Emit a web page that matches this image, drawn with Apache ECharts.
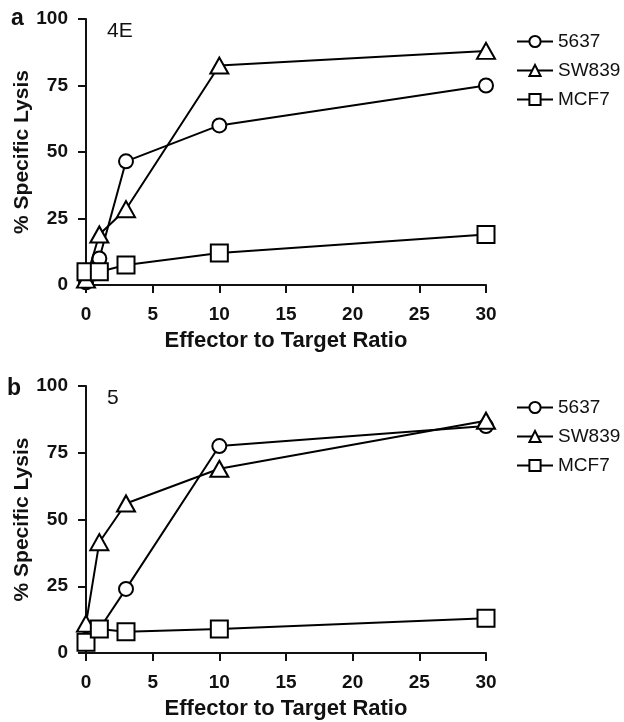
<!DOCTYPE html>
<html>
<head>
<meta charset="utf-8">
<script src="https://cdn.jsdelivr.net/npm/echarts@6/dist/echarts.min.js"></script>
<style>
  html, body { margin: 0; padding: 0; background: #fff; }
  #chart { width: 624px; height: 722px; }
</style>
</head>
<body>
<div id="chart"></div>
<script>
// effector : target ratios
var ratios = [0, 1, 3, 10, 30];
var cellLines = ['5637', 'SW839', 'MCF7'];
var xTicks = [0, 5, 10, 15, 20, 25, 30];
var yTicks = [0, 25, 50, 75, 100];

// panel a (4E)
var a5637 = [1, 10, 46.5, 60, 75];
var aSW839 = [2, 19, 28.5, 82.5, 88];
var aMCF7 = [5, 5, 7.5, 12, 19];

// panel b (5)
var b5637 = [5, 9, 24, 77.5, 85];
var bSW839 = [11, 41.5, 56, 69, 87];
var bMCF7 = [4, 9, 8, 9, 13];

var font = 'Liberation Sans, Arial, sans-serif';
var symbols = { '5637': 'circle', 'SW839': 'triangle', 'MCF7': 'rect' };
var sizes = { '5637': 14, 'SW839': [18, 16], 'MCF7': 17 };

function pairs(vals) {
  return ratios.map(function (r, i) { return [r, vals[i]]; });
}

function makeSeries(name, vals, idx) {
  return {
    name: name,
    type: 'line',
    xAxisIndex: idx,
    yAxisIndex: idx,
    data: pairs(vals),
    symbol: symbols[name],
    symbolSize: sizes[name],
    showAllSymbol: true,
    lineStyle: { color: '#000', width: 2 },
    itemStyle: { color: '#fff', borderColor: '#000', borderWidth: 2 },
    emphasis: { disabled: true },
    animation: false,
    z: 2 + cellLines.indexOf(name)
  };
}

function makeX(idx) {
  return {
    type: 'value',
    gridIndex: idx,
    min: 0,
    max: 30,
    interval: 5,
    name: 'Effector to Target Ratio',
    nameLocation: 'middle',
    nameGap: 45,
    nameMoveOverlap: false,
    nameTextStyle: { fontFamily: font, fontWeight: 'bold', fontSize: 22, color: '#111' },
    axisLine: { lineStyle: { color: '#111', width: 2 } },
    axisTick: { length: 8, lineStyle: { color: '#111', width: 2 } },
    axisLabel: { fontFamily: font, fontWeight: 'bold', fontSize: 19, color: '#111', margin: 20,
      formatter: function (v) { return xTicks.indexOf(v) >= 0 ? v : ''; } },
    splitLine: { show: false }
  };
}

function makeY(idx) {
  return {
    type: 'value',
    gridIndex: idx,
    min: 0,
    max: 100,
    interval: 25,
    name: '% Specific Lysis',
    nameLocation: 'middle',
    nameGap: 53,
    nameMoveOverlap: false,
    nameTextStyle: { fontFamily: font, fontWeight: 'bold', fontSize: 21, color: '#111' },
    axisLine: { show: true, lineStyle: { color: '#111', width: 2 } },
    axisTick: { show: true, length: 8, lineStyle: { color: '#111', width: 2 } },
    axisLabel: { fontFamily: font, fontWeight: 'bold', fontSize: 19, color: '#111', margin: 18,
      formatter: function (v) { return yTicks.indexOf(v) >= 0 ? v : ''; } },
    splitLine: { show: false }
  };
}

function makeLegend(top) {
  return {
    data: cellLines,
    orient: 'vertical',
    left: 516,
    top: top,
    padding: 0,
    itemWidth: 36,
    itemHeight: 14,
    itemGap: 10,
    selectedMode: false,
    textStyle: { fontFamily: font, fontSize: 19, color: '#111' }
  };
}

var option = {
  animation: false,
  backgroundColor: '#fff',
  grid: [
    { left: 86, top: 19, width: 400, height: 266, outerBoundsMode: 'none', containLabel: false },
    { left: 86, top: 386, width: 400, height: 267, outerBoundsMode: 'none', containLabel: false }
  ],
  xAxis: [makeX(0), makeX(1)],
  yAxis: [makeY(0), makeY(1)],
  legend: [makeLegend(32), makeLegend(398)],
  graphic: [
    { type: 'text', x: 11, y: 19, style: { text: 'a', font: 'bold 23px ' + font, fill: '#111', verticalAlign: 'middle' } },
    { type: 'text', x: 107, y: 31, style: { text: '4E', font: '21px ' + font, fill: '#111', verticalAlign: 'middle' } },
    { type: 'text', x: 7, y: 389, style: { text: 'b', font: 'bold 23px ' + font, fill: '#111', verticalAlign: 'middle' } },
    { type: 'text', x: 107, y: 398, style: { text: '5', font: '21px ' + font, fill: '#111', verticalAlign: 'middle' } }
  ],
  series: [
    makeSeries('5637', a5637, 0),
    makeSeries('SW839', aSW839, 0),
    makeSeries('MCF7', aMCF7, 0),
    makeSeries('5637', b5637, 1),
    makeSeries('SW839', bSW839, 1),
    makeSeries('MCF7', bMCF7, 1)
  ]
};

var chart = echarts.init(document.getElementById('chart'));
chart.setOption(option);
</script>
</body>
</html>
